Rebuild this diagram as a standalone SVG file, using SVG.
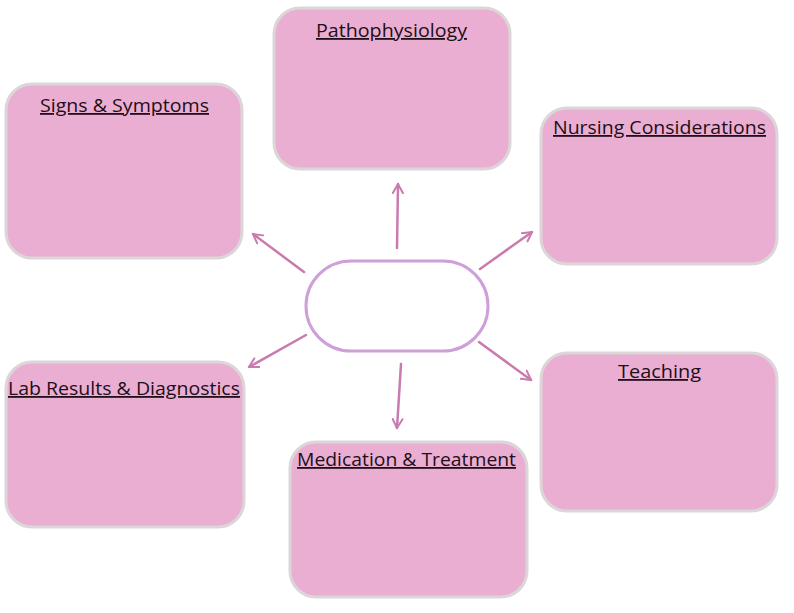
<svg xmlns="http://www.w3.org/2000/svg" width="794" height="613" viewBox="0 0 794 613">
<style>
.box{fill:#ebaed3;stroke:#dcd6d9;stroke-width:3}
.t{font-family:"Open Sans","Liberation Sans",sans-serif;font-size:18px;fill:#1e0f18;text-anchor:middle;text-decoration:underline}
.c{fill:none;stroke:#c97aae;stroke-width:2.5;stroke-linecap:round}
</style>
<defs>
<marker id="ah" viewBox="0 0 12 12" refX="10" refY="6" markerWidth="12" markerHeight="12" markerUnits="userSpaceOnUse" orient="auto">
<path d="M1,1 L10,6 L1,11" fill="none" stroke="#c97aae" stroke-width="2" stroke-linecap="round" stroke-linejoin="round"/>
</marker>
</defs>
<rect width="794" height="613" fill="#ffffff"/>
<g id="pathophysiology"><rect class="box" x="274" y="8" width="236" height="161" rx="26"/><text class="t" x="391.5" y="37" textLength="151" lengthAdjust="spacingAndGlyphs">Pathophysiology</text></g>
<g id="signs"><rect class="box" x="6" y="84" width="236" height="174" rx="26"/><text class="t" x="124.5" y="112" textLength="169" lengthAdjust="spacingAndGlyphs">Signs &amp; Symptoms</text></g>
<g id="nursing"><rect class="box" x="541" y="108" width="236" height="156" rx="26"/><text class="t" x="659.5" y="134" textLength="213" lengthAdjust="spacingAndGlyphs">Nursing Considerations</text></g>
<g id="lab"><rect class="box" x="6" y="362" width="238" height="165" rx="26"/><text class="t" x="124" y="395" textLength="232" lengthAdjust="spacingAndGlyphs">Lab Results &amp; Diagnostics</text></g>
<g id="medication"><rect class="box" x="290" y="442" width="237" height="155" rx="26"/><text class="t" x="406.5" y="466" textLength="219" lengthAdjust="spacingAndGlyphs">Medication &amp; Treatment</text></g>
<g id="teaching"><rect class="box" x="541" y="353" width="236" height="158" rx="26"/><text class="t" x="659.5" y="378" textLength="83" lengthAdjust="spacingAndGlyphs">Teaching</text></g>
<g id="center"><rect x="306" y="261" width="182" height="90" rx="45" fill="#ffffff" stroke="#cf9fd9" stroke-width="3"/></g>
<g id="connectors">
<line class="c" x1="397" y1="248" x2="398" y2="184" marker-end="url(#ah)"/>
<line class="c" x1="304" y1="272" x2="253" y2="234" marker-end="url(#ah)"/>
<line class="c" x1="480" y1="269" x2="532" y2="232" marker-end="url(#ah)"/>
<line class="c" x1="306" y1="335" x2="249" y2="367" marker-end="url(#ah)"/>
<line class="c" x1="401" y1="364" x2="397" y2="428" marker-end="url(#ah)"/>
<line class="c" x1="479" y1="342" x2="531" y2="380" marker-end="url(#ah)"/>
</g>
</svg>
